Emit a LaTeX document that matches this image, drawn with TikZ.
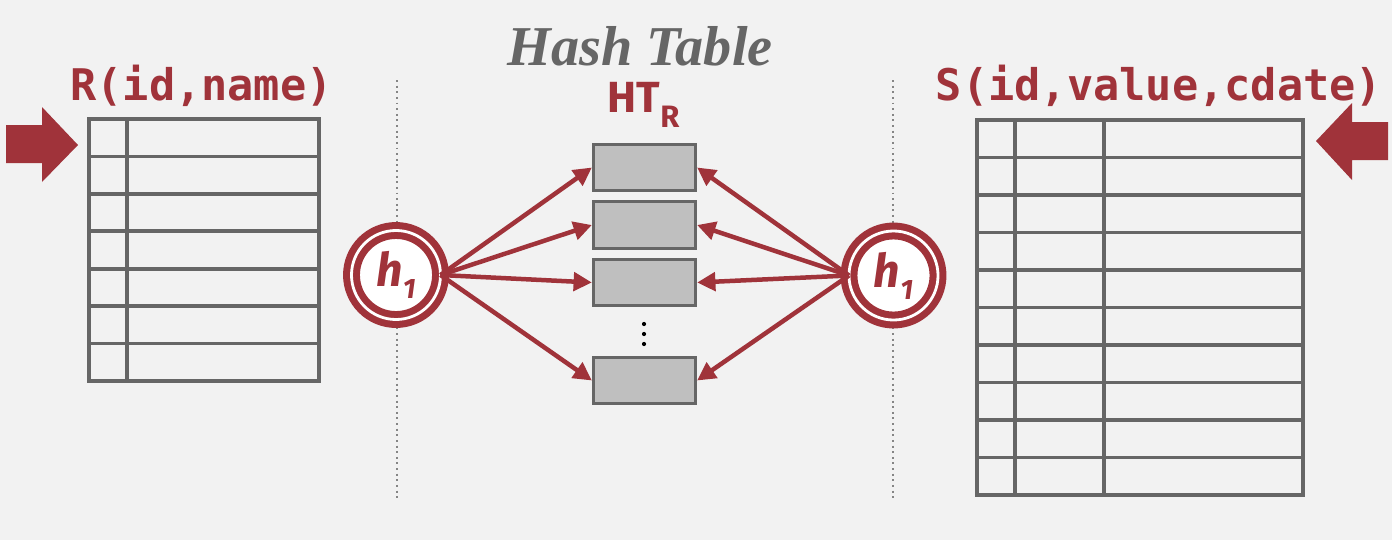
\documentclass[tikz,border=0pt]{standalone}
\usepackage{fontspec}
\newfontfamily\codefont{DejaVu Sans Mono}
\newfontfamily\labelfont{Fira Sans}
\newfontfamily\titlefont{Liberation Serif}
\usetikzlibrary{arrows.meta}
\definecolor{SlideBg}{RGB}{242,242,242}
\definecolor{DarkRed}{RGB}{160,51,58}
\definecolor{GridGray}{RGB}{102,102,102}
\definecolor{BucketGray}{RGB}{191,191,191}
\tikzset{
  tablename/.style={anchor=base,text=DarkRed,
    font=\codefont\bfseries\fontsize{31}{31}\selectfont},
  tableline/.style={draw=GridGray,line width=2.6pt},
  bucket/.style={draw=GridGray,fill=BucketGray,line width=2pt,
    minimum width=2.56cm,minimum height=1.16cm,inner sep=0pt},
  hashfn/.style={circle,draw=DarkRed,line width=5pt,double=white,
    double distance=2pt,fill=white,minimum size=2.225cm,inner sep=0pt,
    outer sep=0pt,text=DarkRed,
    font=\labelfont\bfseries\itshape\fontsize{33}{33}\selectfont},
  hasharrow/.style={-{Triangle[length=13pt,width=13pt]},line width=3.2pt,DarkRed},
  divider/.style={GridGray!80,line width=1.4pt,dash pattern=on 1.4pt off 2.6pt},
  bigarrow/.style={fill=DarkRed}
}

\begin{document}
\begin{tikzpicture}[x=0.025cm,y=-0.025cm]
  \fill[SlideBg] (0,0) rectangle (1392,540);
  \draw[divider] (397,80) -- (397,500);
  \draw[divider] (893,80) -- (893,500);

  \draw[tableline] (89,119) rectangle (319,381);
  \draw[tableline] (127,119) -- (127,381);
  \foreach \r in {1,...,6}
    \draw[tableline] (89,{119+37.43*\r}) -- (319,{119+37.43*\r});

  \draw[tableline] (977,120) rectangle (1303,495);
  \foreach \c in {1015,1104}
    \draw[tableline] (\c,120) -- (\c,495);
  \foreach \r in {1,...,9}
    \draw[tableline] (977,{120+37.5*\r}) -- (1303,{120+37.5*\r});

  \fill[bigarrow] (6,125) -- (42,125) -- (42,107) -- (78,145) --
    (42,182) -- (42,163) -- (6,163) -- cycle;
  \fill[bigarrow] (1388,122) -- (1352,122) -- (1352,103) -- (1316,141) --
    (1352,180) -- (1352,160) -- (1388,160) -- cycle;

  \node[tablename] (rname) at (201.5,100) {R(id,name)};
  \node[tablename] (sname) at (1159,100) {S(id,value,cdate)};
  \node[anchor=base,text=GridGray,
    font=\titlefont\bfseries\itshape\fontsize{40}{40}\selectfont]
    (httitle) at (640,65) {Hash Table};
  \node[anchor=base,text=DarkRed,font=\labelfont\bfseries\fontsize{31}{31}\selectfont]
    (htname) at (643.5,112) {HT\raisebox{-10.7pt}{\fontsize{22}{22}\selectfont R}};

  \node[bucket] (b1) at (644.5,167.5) {};
  \node[bucket] (b2) at (644.5,225) {};
  \node[bucket] (b3) at (644.5,282.5) {};
  \node[bucket] (b4) at (644.5,380.5) {};
  \foreach \y in {324,334,344}
    \fill (644,\y) circle (1.5pt);

  \node[hashfn] (hl) at (396,275) {h\raisebox{-8.5pt}{\fontsize{20}{20}\selectfont 1}};
  \node[hashfn] (hr) at (893.5,275.5) {h\raisebox{-8.5pt}{\fontsize{20}{20}\selectfont 1}};

  \foreach \b in {1,...,4} {
    \draw[hasharrow] (hl.east) -- (b\b.west);
    \draw[hasharrow] (hr.west) -- (b\b.east);
  }
\end{tikzpicture}
\end{document}
